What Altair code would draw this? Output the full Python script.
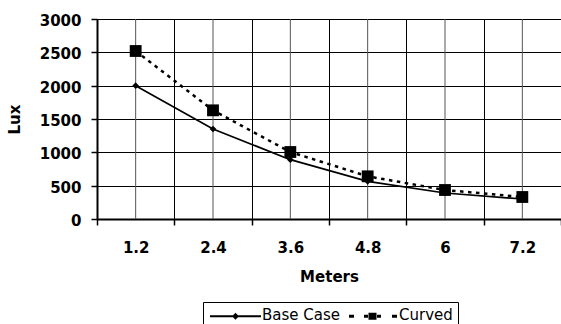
import altair as alt
import pandas as pd

# ---- data ----
meters = ["1.2", "2.4", "3.6", "4.8", "6", "7.2"]
base_case = [2000, 1350, 890, 565, 390, 300]
curved = [2520, 1630, 1005, 640, 435, 330]
series_names = ["Base Case", "Curved"]
y_ticks = [0, 500, 1000, 1500, 2000, 2500, 3000]

rows = []
for m, b in zip(meters, base_case):
    rows.append({"Meters": m, "series": "Base Case", "Lux": b})
for m, c in zip(meters, curved):
    rows.append({"Meters": m, "series": "Curved", "Lux": c})
df = pd.DataFrame(rows)
cats = pd.DataFrame({"Meters": meters})

FONT = "DejaVu Sans"

x_enc = alt.X(
    "Meters:O",
    sort=meters,
    bandPosition=0.5,
    scale=alt.Scale(type="band", domain=meters, paddingInner=0, paddingOuter=0),
    axis=alt.Axis(
        title="Meters", labelAngle=0, tickBand="extent", grid=True,
        gridColor="black", gridWidth=1, gridOpacity=1,
        domainColor="black", domainWidth=2,
        tickColor="black", tickSize=6, tickWidth=1.5,
        labelFont=FONT, labelFontSize=15, labelFontWeight="bold", labelColor="black",
        labelBaseline="alphabetic", labelPadding=27,
        titleFont=FONT, titleFontSize=15, titleFontWeight="bold", titleColor="black",
        titleBaseline="alphabetic", titleY=62,
    ),
)

y_enc = alt.Y(
    "Lux:Q",
    scale=alt.Scale(domain=[0, 3000], nice=False, zero=True),
    axis=alt.Axis(
        title="Lux", values=y_ticks, format="d", grid=True, gridColor="black",
        gridWidth=1, gridOpacity=1,
        domainColor="black", domainWidth=2,
        tickColor="black", tickSize=6, tickWidth=1.5,
        labelFont=FONT, labelFontSize=15, labelFontWeight="bold", labelColor="black",
        labelPadding=10, labelOffset=1.5,
        titleFont=FONT, titleFontSize=15, titleFontWeight="bold", titleColor="black",
        titleX=-78, titleY=100, titleBaseline="alphabetic", titleAlign="center",
    ),
)

# legend symbols: line + marker drawn as filled custom paths (unit r = 5 px)
base_shape = ("M0,-1.8M-5.1,0.1H5.1V0.5H-5.1Z"
              "M0,-0.4L0.7,0.3L0,1L-0.7,0.3Z")
curved_shape = ("M0,-1.8M-4.7,0H-3.7V0.6H-4.7Z"
                "M-1.7,0H-0.9V0.6H-1.7Z"
                "M-0.8,-0.4H0.8V1H-0.8Z"
                "M0.9,0H1.7V0.6H0.9Z"
                "M3.9,0H4.9V0.6H3.9Z")

legend = alt.Legend(
    orient="none", legendX=106, legendY=283, direction="horizontal", title=None,
    symbolSize=100, symbolStrokeWidth=0, symbolStrokeColor="black",
    symbolFillColor="black", symbolOpacity=1, symbolOffset=20,
    labelFont=FONT, labelFontSize=15, labelColor="black", labelOffset=19,
    columnPadding=4, padding=5, strokeColor="black", fillColor="white",
    cornerRadius=0,
)

shape_enc = alt.Shape(
    "series:N",
    scale=alt.Scale(domain=series_names, range=[base_shape, curved_shape]),
    legend=legend,
)

center_rules = alt.Chart(cats).mark_rule(color="#555555", strokeWidth=1).encode(x=x_enc)

base_line = alt.Chart(df).transform_filter(alt.datum.series == "Base Case").mark_line(
    color="black", strokeWidth=1.7
).encode(x=x_enc, y=y_enc)

curved_line = alt.Chart(df).transform_filter(alt.datum.series == "Curved").mark_line(
    color="black", strokeWidth=2.5, strokeDash=[3.5, 4.5]
).encode(x=x_enc, y=y_enc)

base_pts = alt.Chart(df).transform_filter(alt.datum.series == "Base Case").mark_point(
    shape="diamond", filled=True, color="black", size=45, opacity=1
).encode(x=x_enc, y=y_enc)

curved_pts = alt.Chart(df).transform_filter(alt.datum.series == "Curved").mark_point(
    shape="square", filled=True, color="black", size=140, opacity=1
).encode(x=x_enc, y=y_enc)

# legend-only layer (draws no marks; legend built from the shape scale domain)
legend_layer = alt.Chart(df).transform_filter("false").mark_point(
    filled=True, color="black"
).encode(x=x_enc, y=y_enc, shape=shape_enc)

chart = alt.layer(
    center_rules, base_line, base_pts, curved_line, curved_pts, legend_layer
).properties(
    width=464, height=200,
    autosize=alt.AutoSizeParams(type="none"),
    padding={"left": 97, "top": 19, "right": 0, "bottom": 105},
    background="white",
).configure_view(stroke=None)

chart.save("out.html", embed_options={"renderer": "svg", "actions": False})
